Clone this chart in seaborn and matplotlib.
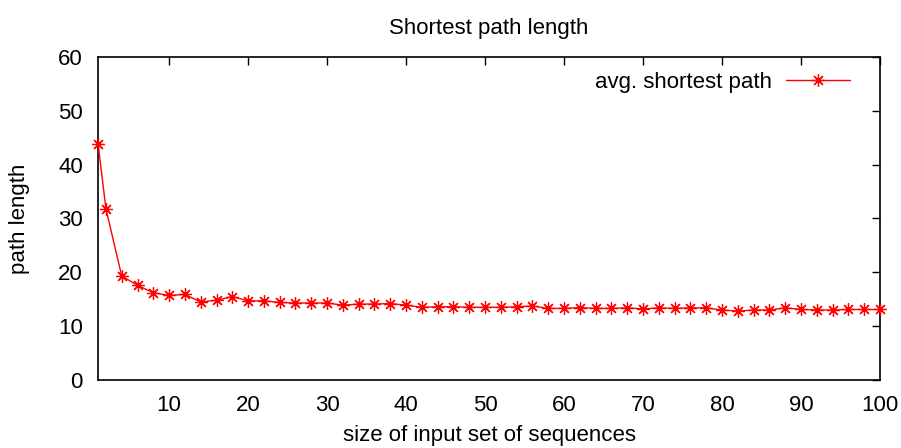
import matplotlib
matplotlib.use("Agg")
import matplotlib.pyplot as plt
import seaborn as sns
import pandas as pd

x_sizes = [1, 2, 4, 6, 8, 10, 12, 14, 16, 18, 20, 22, 24, 26, 28, 30, 32, 34, 36, 38, 40,
           42, 44, 46, 48, 50, 52, 54, 56, 58, 60, 62, 64, 66, 68, 70, 72, 74, 76, 78, 80,
           82, 84, 86, 88, 90, 92, 94, 96, 98, 100]
path_len = [43.9, 31.8, 19.3, 17.6, 16.2, 15.7, 15.9, 14.5, 14.8, 15.5, 14.7, 14.7, 14.4,
            14.3, 14.3, 14.3, 13.9, 14.1, 14.1, 14.2, 13.9, 13.5, 13.6, 13.6, 13.5, 13.5,
            13.5, 13.6, 13.75, 13.3, 13.3, 13.45, 13.3, 13.3, 13.4, 13.2, 13.4, 13.3, 13.4,
            13.4, 13.0, 12.8, 13.0, 13.0, 13.4, 13.1, 13.0, 13.0, 13.1, 13.1, 13.1]

df = pd.DataFrame({"size": x_sizes, "length": path_len})

sns.set_style("white")
plt.rcParams['font.family'] = ['Liberation Sans', 'DejaVu Sans']
plt.rcParams['text.color'] = 'black'
plt.rcParams['axes.labelcolor'] = 'black'

FS = 16

fig = plt.figure(figsize=(9.01, 4.48), dpi=100)
ax = fig.add_axes([0.1088, 0.1518, 0.8679, 0.7210])

sns.lineplot(data=df, x="size", y="length", ax=ax, color="#ff0000", linewidth=1.0,
             marker=(8, 2, 0), markersize=9, markeredgewidth=0.9, markeredgecolor="#ff0000",
             label="avg. shortest path", clip_on=False, zorder=3)

ax.set_xlim(1, 100)
ax.set_ylim(0, 60)
ax.set_xticks([10, 20, 30, 40, 50, 60, 70, 80, 90, 100])
ax.set_yticks([0, 10, 20, 30, 40, 50, 60])
ax.tick_params(direction="in", length=6, width=1, top=True, right=True,
               labelsize=FS, colors="black", pad=11)
for s in ax.spines.values():
    s.set_color("black")
    s.set_linewidth(1.2)

ax.set_title("Shortest path length", fontsize=FS, pad=16.5, color="black")
ax.set_xlabel("size of input set of sequences", fontsize=FS, labelpad=6, color="black")
ax.set_ylabel("path length", fontsize=FS, labelpad=20, color="black")

leg = ax.legend(loc="upper right", bbox_to_anchor=(0.973, 0.982), frameon=False,
                markerfirst=False, fontsize=FS, handlelength=2.9, borderaxespad=0.0,
                handletextpad=0.63, labelcolor="black")

fig.savefig("out.png", dpi=100)
